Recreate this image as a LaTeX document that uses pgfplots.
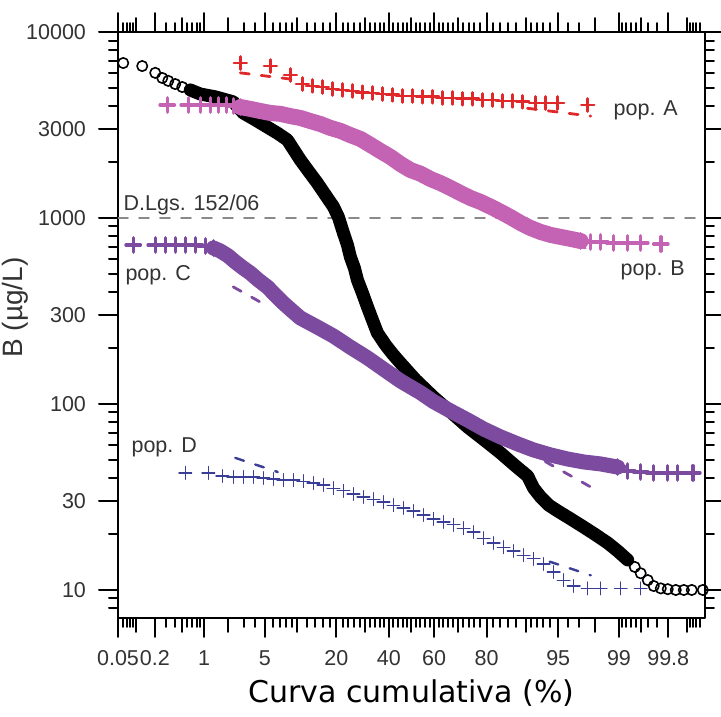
\documentclass[border=0pt]{standalone}
\usepackage{pgfplots}
\pgfplotsset{compat=1.18}
\usepackage{fontspec}
\setmainfont{Liberation Sans}
\newfontfamily\labfont{DejaVu Sans}
\usetikzlibrary{calc}
\definecolor{popA}{HTML}{E0282A}
\definecolor{popB}{HTML}{C462B4}
\definecolor{popC}{HTML}{7C4A9E}
\definecolor{popD}{HTML}{3A3E96}
\definecolor{txt}{HTML}{333333}
\definecolor{refline}{HTML}{8A8A8A}
% x axis is a normal-probability scale: positions are probit(z) of the cumulative %
\begin{document}
\begin{tikzpicture}
\begin{axis}[name=ax, scale only axis, width=293.5bp, height=293bp,
  xmin=-3.2905, xmax=3.2905, ymode=log, ymin=7.07, ymax=10000,
  axis line style={line width=1.2bp}, tick align=outside,
  major tick length=9.5bp, minor tick length=4.5bp,
  every tick/.style={black, line width=1bp},
  xtick={-3.2905,-2.8782,-2.3263,-1.6449,-0.8416,-0.2533,0.2533,0.8416,1.6449,2.3263,2.8782},
  xticklabels={0.05,0.2,1,5,20,40,60,80,95,99,99.8},
  extra x ticks={-3.0902,-2.5758,-2.0537,-1.2816,-0.5244,0,0.5244,1.2816,2.0537,2.5758,3.0902},
  extra x tick labels={}, extra x tick style={major tick length=7bp},
  minor xtick={-3.2389,-3.1947,-3.1559,-3.1214,-2.7478,-2.6521,-2.5121,-2.4573,-2.4089,-2.3656,
    -1.8808,-1.7507,-1.5548,-1.4758,-1.4051,-1.3408,-1.1750,-1.0803,-0.9945,-0.9154,
    -0.7722,-0.7063,-0.6433,-0.5828,-0.4677,-0.4125,-0.3585,-0.3055,-0.2019,-0.1510,-0.1004,-0.0502,
    0.0502,0.1004,0.1510,0.2019,0.3055,0.3585,0.4125,0.4677,0.5828,0.6433,0.7063,0.7722,
    0.9154,0.9945,1.0803,1.1750,1.3408,1.4051,1.4758,1.5548,1.7507,1.8808,
    2.3656,2.4089,2.4573,2.5121,2.6521,2.7478,3.1214,3.1559,3.1947,3.2389},
  ytick={10,30,100,300,1000,3000,10000},
  yticklabels={10,30,100,300,1000,3000,10000},
  minor ytick={8,9,20,40,50,60,70,80,90,200,400,500,600,700,800,900,2000,4000,5000,6000,7000,8000,9000},
  /pgf/number format/assume math mode=true,
  tick label style={font=\fontsize{10.75bp}{12bp}\selectfont, text=txt},
  xticklabel style={yshift=-3.5bp}, yticklabel style={xshift=-3bp},
  xlabel={Curva cumulativa (\%)}, ylabel={B (µg/L)},
  xlabel style={font=\labfont\fontsize{15bp}{18bp}\selectfont, at={(axis description cs:0.5,-0.128)}, anchor=center},
  ylabel style={font=\fontsize{14bp}{16bp}\selectfont, text=txt, at={(axis description cs:-0.162,0.53)}, anchor=base},
  line cap=round, line join=round]

\addplot[refline, line width=0.8bp, dash pattern=on 5bp off 5.5bp] coordinates {(-3.2905,1000) (3.2905,1000)};

% fitted lines, only the parts that show beside the data
\addplot[popA, line width=1.4bp, dash pattern=on 4.5bp off 6bp] coordinates {(-1.919,6030) (-1.3,5540)};
\addplot[popA, line width=1.4bp, dash pattern=on 4.5bp off 6bp] coordinates {(1.3,3890) (2.009,3530)};
\addplot[popB, line width=1.4bp, dash pattern=on 4.5bp off 6bp] coordinates {(0.325,1416) (2.065,656)};
\addplot[popC, line width=1.4bp, dash pattern=on 4.5bp off 6bp] coordinates {(-1.998,426) (-1.6,333)};
\addplot[popC, line width=1.4bp, dash pattern=on 4.5bp off 6bp] coordinates {(1.5,49.0) (2.009,35.8)};
\addplot[popD, line width=1.2bp, dash pattern=on 4.5bp off 6bp] coordinates {(-1.975,51.3) (-1.5,43.1)};
\addplot[popD, line width=1.2bp, dash pattern=on 4.5bp off 6bp] coordinates {(1.55,14.2) (2.009,12.0)};

% all samples (black circles); dense middle part as a band
\addplot[black, line width=6.5bp] coordinates {(-2.480,4880) (-2.368,4640) (-2.200,4480) (-1.998,4210) (-1.886,3670) (-1.751,3370) (-1.616,3080) (-1.504,2860) (-1.392,2630) (-1.246,2050) (-1.156,1790) (-1.055,1540) (-0.965,1330) (-0.875,1150) (-0.819,1010) (-0.763,830) (-0.718,716) (-0.685,617) (-0.640,538) (-0.606,464) (-0.550,395) (-0.494,333) (-0.438,283) (-0.382,241) (-0.292,208) (-0.213,186) (-0.123,166) (0.045,135) (0.247,109) (0.438,90.6) (0.629,75.2) (0.831,63.2) (0.999,54.5) (1.167,46.4) (1.302,41.0) (1.369,35.3) (1.448,31.6) (1.538,28.6) (1.639,26.6) (1.785,24.1) (1.930,21.8) (2.065,19.8) (2.200,17.9) (2.312,16.2) (2.424,14.5)};
\addplot[black, only marks, mark=o, mark size=2.6bp, mark options={line width=0.8bp}] coordinates {(-3.232,6810) (-3.019,6560) (-2.873,6030) (-2.794,5660) (-2.727,5460) (-2.649,5250) (-2.570,5060) (-2.480,4880) (-2.368,4640) (-2.200,4480) (2.424,14.5) (2.503,13.3) (2.570,12.3) (2.649,11.3) (2.716,10.5) (2.795,10.2) (2.873,10.1) (2.963,10) (3.053,10) (3.142,10) (3.266,10)};

% pop. B
\addplot[popB, line width=8bp] coordinates {(-1.919,3950) (-1.807,3860) (-1.695,3760) (-1.582,3670) (-1.470,3630) (-1.358,3530) (-1.246,3450) (-1.134,3320) (-1.021,3200) (-0.909,3050) (-0.797,2940) (-0.685,2790) (-0.572,2660) (-0.460,2470) (-0.348,2290) (-0.236,2130) (-0.123,1950) (-0.011,1810) (0.101,1730) (0.213,1620) (0.325,1540) (0.438,1450) (0.550,1360) (0.662,1280) (0.774,1220) (0.887,1150) (0.999,1080) (1.111,1010) (1.223,940) (1.336,883) (1.448,841) (1.560,811) (1.672,791) (1.785,772) (1.897,752)};
\addplot[popB, only marks, mark=+, mark size=3.6bp, mark options={line width=1.7bp}] coordinates {(-2.738,4050) (-2.503,4050) (-2.368,4050) (-2.256,4050) (-2.166,4050) (-2.076,4050) (-1.998,4000) (-1.919,3950) (1.897,752) (2.009,743) (2.121,743) (2.267,734) (2.424,734) (2.570,734) (2.795,725)};

% pop. C
\addplot[popC, line width=7.5bp] coordinates {(-2.222,690) (-2.144,665) (-2.054,625) (-1.975,580) (-1.886,538) (-1.807,506) (-1.717,464) (-1.616,426) (-1.526,385) (-1.437,349) (-1.336,316) (-1.246,290) (-1.055,259) (-0.875,232) (-0.685,202) (-0.494,177) (-0.314,154) (-0.123,133) (0.101,115) (0.247,103) (0.438,91.7) (0.629,82.0) (0.808,73.4) (0.999,66.5) (1.190,61.0) (1.369,56.6) (1.560,53.2) (1.751,50.6) (1.930,48.8) (2.121,47.6) (2.312,45.8)};
\addplot[popC, only marks, mark=+, mark size=3.6bp, mark options={line width=1.7bp}] coordinates {(-3.120,716) (-2.873,716) (-2.761,716) (-2.649,716) (-2.536,716) (-2.424,716) (-2.312,707) (-2.222,690) (2.312,45.8) (2.424,43.6) (2.570,43.1) (2.716,42.6) (2.873,42.6) (2.985,42.6) (3.154,42.6)};

% pop. A
\addplot[popA, only marks, mark=+, mark size=3.2bp, mark options={line width=1.4bp}] coordinates {(-1.919,6810) (-1.582,6560) (-1.358,5870) (-1.223,5250) (-1.111,5130) (-0.999,5060) (-0.886,4940) (-0.774,4880) (-0.662,4820) (-0.550,4750) (-0.438,4700) (-0.325,4640) (-0.213,4590) (-0.101,4530) (0.011,4530) (0.123,4480) (0.236,4480) (0.348,4420) (0.460,4420) (0.572,4370) (0.685,4370) (0.797,4310) (0.909,4310) (1.021,4260) (1.134,4260) (1.246,4210) (1.392,4150) (1.504,4150) (1.639,4150) (1.976,4050)};

% pop. D
\addplot[popD, only marks, mark=+, mark size=3.2bp, mark options={line width=0.6bp}] coordinates {(-2.536,42.6) (-2.278,42.6) (-2.121,41.0) (-1.998,40.5) (-1.886,40.5) (-1.773,40.5) (-1.661,40.0) (-1.549,39.5) (-1.437,39.0) (-1.324,39.0) (-1.212,38.5) (-1.100,37.6) (-0.988,36.7) (-0.875,35.3) (-0.763,34.1) (-0.651,32.8) (-0.539,31.6) (-0.426,30.8) (-0.314,29.7) (-0.202,28.6) (-0.090,27.6) (0.022,26.6) (0.135,25.3) (0.247,24.1) (0.359,23.2) (0.471,22.4) (0.584,21.5) (0.696,20.5) (0.808,19.0) (0.920,17.9) (1.033,17.0) (1.145,16.2) (1.257,15.4) (1.369,14.7) (1.481,13.8) (1.594,12.5) (1.706,11.3) (1.818,10.5) (1.975,10.2) (2.121,10.2) (2.346,10.2) (2.570,10.2)};

\node[font=\fontsize{10.75bp}{12bp}\selectfont, text=txt] at (axis cs:2.626,3810) {pop. A};
\node[font=\fontsize{10.75bp}{12bp}\selectfont, text=txt] at (axis cs:2.705,525) {pop. B};
\node[font=\fontsize{10.75bp}{12bp}\selectfont, text=txt] at (axis cs:-2.840,494) {pop. C};
\node[font=\fontsize{10.75bp}{12bp}\selectfont, text=txt] at (axis cs:-2.772,58.7) {pop. D};
\node[font=\fontsize{10.75bp}{12bp}\selectfont, text=txt, anchor=west, inner sep=0pt] at (axis cs:-3.232,1175) {D.Lgs. 152/06};
\end{axis}
\pgfresetboundingbox
\path[use as bounding box] ($(ax.south west)+(-59bp,-49.5bp)$) rectangle ($(ax.north east)+(8bp,16bp)$);
\end{tikzpicture}
\end{document}
